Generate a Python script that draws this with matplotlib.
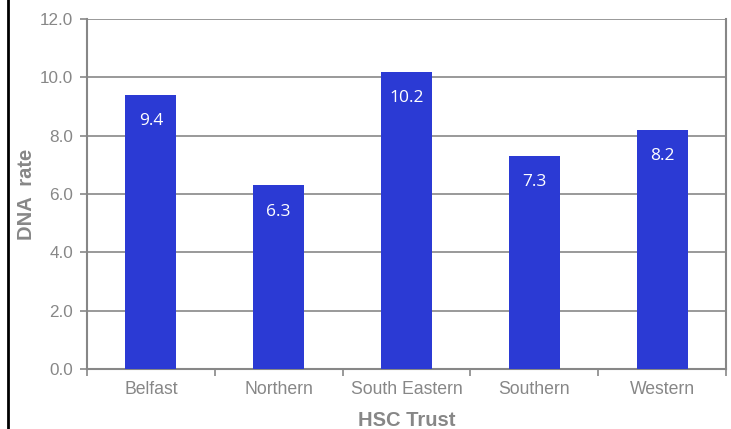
import matplotlib
matplotlib.use("Agg")
import matplotlib.pyplot as plt
from matplotlib.lines import Line2D

plt.rcParams['font.family'] = ['Liberation Sans', 'DejaVu Sans']

trusts = ["Belfast", "Northern", "South Eastern", "Southern", "Western"]
dna_rate = [9.4, 6.3, 10.2, 7.3, 8.2]
y_ticks = [0.0, 2.0, 4.0, 6.0, 8.0, 10.0, 12.0]

bar_color = "#2B3AD4"
grey = "#878787"

fig = plt.figure(figsize=(7.31, 4.29), dpi=100)
ax = fig.add_axes([87 / 731, 1 - 369 / 429, 639 / 731, 350 / 429])

x = list(range(len(trusts)))
bars = ax.bar(x, dna_rate, width=0.4, color=bar_color, zorder=3)
for xi, v in zip(x, dna_rate):
    ax.annotate(f"{v:.1f}", (xi, v), xytext=(0, -19), textcoords="offset points",
                ha="center", va="center", color="white", fontsize=12.5,
                family=["Open Sans", "DejaVu Sans"], zorder=4)

ax.set_xlim(-0.5, len(trusts) - 0.5)
ax.set_ylim(0, 12)
ax.set_yticks(y_ticks)
ax.set_yticklabels([f"{t:.1f}" for t in y_ticks])
ax.yaxis.grid(True, color=grey, linewidth=1.2, zorder=0)
ax.set_axisbelow(True)

ax.set_xticks(x)
ax.set_xticklabels(trusts)
ax.tick_params(axis="x", length=0, pad=9, labelsize=12.7, labelcolor=grey)
ax.set_xticks([i - 0.5 for i in range(len(trusts) + 1)], minor=True)
ax.tick_params(axis="x", which="minor", length=5, width=1.2, color=grey, direction="out")
ax.tick_params(axis="y", length=5, width=1.2, color=grey, labelsize=12.3, labelcolor=grey, pad=5)

for s in ["left", "bottom", "right", "top"]:
    ax.spines[s].set_color(grey)
    ax.spines[s].set_linewidth(1.5)
ax.spines["top"].set_visible(False)

ax.set_xlabel("HSC Trust", fontsize=14.5, fontweight="bold", color=grey, labelpad=9)
ax.set_ylabel("DNA  rate", fontsize=14.5, fontweight="bold", color=grey, labelpad=3)

# frame line on the left edge of the figure
fig.add_artist(Line2D([7.5 / 731, 7.5 / 731], [0, 1], transform=fig.transFigure,
                      color="black", linewidth=2))

fig.savefig("out.png", dpi=100)
